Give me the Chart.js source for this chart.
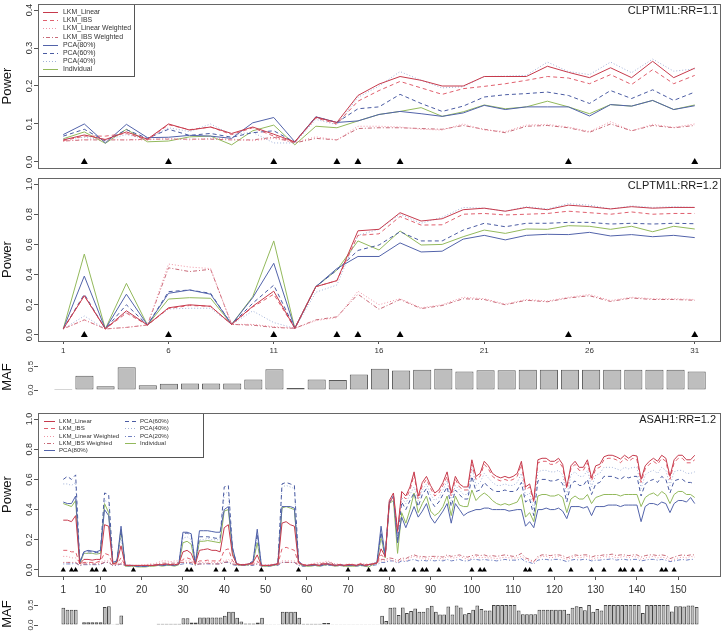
<!DOCTYPE html>
<html>
<head>
<meta charset="utf-8">
<script src="https://cdn.jsdelivr.net/npm/chart.js@4.4.1/dist/chart.umd.min.js"></script>
<style>
  body { margin: 0; background: #fff; overflow: hidden; }
  .panel { position: absolute; left: 0; width: 724px; }
</style>
</head>
<body>
<div class="panel" style="top:0px;height:172px"><canvas id="p1" width="724" height="172"></canvas></div>
<div class="panel" style="top:172px;height:190px"><canvas id="p2" width="724" height="190"></canvas></div>
<div class="panel" style="top:358px;height:40px"><canvas id="m1" width="724" height="40"></canvas></div>
<div class="panel" style="top:395px;height:205px"><canvas id="p3" width="724" height="205"></canvas></div>
<div class="panel" style="top:596px;height:35px"><canvas id="m3" width="724" height="35"></canvas></div>
<script>
// ---- tick labels ----
const xTicks1 = [1, 6, 11, 16, 21, 26, 31]
const xTicks3 = [1, 10, 20, 30, 40, 50, 60, 70, 80, 90, 100, 110, 120, 130, 140, 150]
const yTicksP1 = [0, 0.1, 0.2, 0.3, 0.4]
const yTicksP = [0, 0.2, 0.4, 0.6, 0.8, 1.0]
const yTicksMaf = [0, 0.5]

// ---- causal SNP positions (triangles) ----
const causal1 = [2, 6, 11, 14, 15, 17, 25, 31]
const causal3 = [1, 3, 4, 8, 9, 11, 18, 31, 32, 38, 40, 43, 49, 58, 70, 75, 78, 79, 81, 86, 88, 89, 92,
  100, 102, 103, 113, 114, 119, 124, 129, 132, 136, 137, 139, 141, 146, 147, 149]

// ---- CLPTM1L, 31 SNPs ----
const maf1 = [0.02, 0.30, 0.08, 0.48, 0.10, 0.13, 0.14, 0.14, 0.14, 0.22, 0.44, 0.04, 0.22, 0.21, 0.33, 0.45,
  0.41, 0.43, 0.45, 0.39, 0.42, 0.42, 0.43, 0.43, 0.43, 0.43, 0.43, 0.43, 0.43, 0.43, 0.39]

// RR = 1.1
const p1LkmLinear = [0.058, 0.071, 0.059, 0.079, 0.060, 0.100, 0.084, 0.092, 0.075, 0.092, 0.073, 0.053, 0.118, 0.104, 0.175, 0.205,
  0.225, 0.215, 0.200, 0.200, 0.225, 0.225, 0.225, 0.252, 0.236, 0.222, 0.248, 0.222, 0.265, 0.222, 0.247]
const p1LkmIbs = [0.056, 0.068, 0.068, 0.075, 0.058, 0.098, 0.085, 0.092, 0.072, 0.090, 0.068, 0.052, 0.116, 0.100, 0.160, 0.188,
  0.212, 0.195, 0.178, 0.193, 0.199, 0.206, 0.215, 0.225, 0.221, 0.206, 0.230, 0.204, 0.243, 0.206, 0.228]
const p1LkmLinW = [0.055, 0.059, 0.060, 0.058, 0.058, 0.062, 0.058, 0.062, 0.060, 0.056, 0.062, 0.052, 0.066, 0.058, 0.094, 0.094,
  0.092, 0.086, 0.084, 0.100, 0.084, 0.080, 0.097, 0.099, 0.092, 0.080, 0.106, 0.082, 0.099, 0.091, 0.100]
const p1LkmIbsW = [0.055, 0.058, 0.058, 0.058, 0.060, 0.060, 0.060, 0.060, 0.058, 0.058, 0.065, 0.050, 0.062, 0.058, 0.088, 0.090,
  0.090, 0.088, 0.086, 0.096, 0.086, 0.077, 0.094, 0.096, 0.090, 0.078, 0.100, 0.082, 0.096, 0.090, 0.096]
const p1Pca80 = [0.072, 0.100, 0.050, 0.099, 0.064, 0.065, 0.070, 0.068, 0.062, 0.103, 0.117, 0.053, 0.119, 0.104, 0.108, 0.125,
  0.133, 0.127, 0.120, 0.129, 0.149, 0.138, 0.145, 0.145, 0.145, 0.121, 0.151, 0.147, 0.162, 0.138, 0.148]
const p1Pca60 = [0.068, 0.086, 0.055, 0.085, 0.062, 0.086, 0.070, 0.075, 0.065, 0.077, 0.082, 0.052, 0.118, 0.104, 0.140, 0.145,
  0.178, 0.154, 0.133, 0.147, 0.171, 0.177, 0.180, 0.184, 0.175, 0.154, 0.188, 0.167, 0.190, 0.162, 0.184]
const p1Pca40 = [0.060, 0.065, 0.058, 0.072, 0.060, 0.090, 0.080, 0.100, 0.072, 0.078, 0.050, 0.050, 0.112, 0.098, 0.170, 0.200,
  0.238, 0.215, 0.195, 0.198, 0.225, 0.226, 0.228, 0.263, 0.238, 0.230, 0.263, 0.235, 0.271, 0.239, 0.245]
const p1Indiv = [0.061, 0.079, 0.049, 0.086, 0.053, 0.055, 0.066, 0.068, 0.045, 0.082, 0.097, 0.045, 0.094, 0.090, 0.108, 0.125,
  0.133, 0.143, 0.120, 0.132, 0.150, 0.140, 0.145, 0.160, 0.145, 0.127, 0.151, 0.147, 0.162, 0.138, 0.150]

// RR = 1.2
const p2LkmLinear = [0.04, 0.26, 0.04, 0.16, 0.066, 0.18, 0.20, 0.19, 0.07, 0.19, 0.29, 0.044, 0.32, 0.36, 0.69, 0.70,
  0.81, 0.755, 0.77, 0.83, 0.84, 0.82, 0.845, 0.83, 0.86, 0.85, 0.835, 0.85, 0.84, 0.845, 0.845]
const p2LkmIbs = [0.04, 0.26, 0.04, 0.145, 0.066, 0.175, 0.195, 0.19, 0.07, 0.185, 0.27, 0.044, 0.32, 0.36, 0.66, 0.67,
  0.785, 0.728, 0.73, 0.80, 0.805, 0.795, 0.80, 0.805, 0.82, 0.81, 0.80, 0.815, 0.80, 0.805, 0.805]
const p2LkmLinW = [0.04, 0.10, 0.04, 0.05, 0.066, 0.47, 0.45, 0.44, 0.07, 0.07, 0.055, 0.044, 0.095, 0.115, 0.29, 0.20,
  0.24, 0.18, 0.20, 0.25, 0.24, 0.205, 0.235, 0.225, 0.25, 0.268, 0.228, 0.25, 0.24, 0.24, 0.235]
const p2LkmIbsW = [0.04, 0.10, 0.04, 0.05, 0.066, 0.445, 0.42, 0.435, 0.07, 0.065, 0.05, 0.044, 0.10, 0.12, 0.27, 0.17,
  0.235, 0.175, 0.195, 0.24, 0.235, 0.20, 0.23, 0.22, 0.245, 0.26, 0.222, 0.245, 0.235, 0.235, 0.23]
const p2Pca80 = [0.04, 0.39, 0.04, 0.27, 0.066, 0.276, 0.298, 0.27, 0.07, 0.247, 0.475, 0.044, 0.32, 0.44, 0.52, 0.52,
  0.61, 0.55, 0.555, 0.635, 0.66, 0.63, 0.66, 0.667, 0.665, 0.68, 0.656, 0.665, 0.651, 0.66, 0.645]
const p2Pca60 = [0.04, 0.27, 0.04, 0.20, 0.066, 0.287, 0.298, 0.276, 0.07, 0.21, 0.33, 0.044, 0.32, 0.43, 0.56, 0.596,
  0.684, 0.623, 0.623, 0.695, 0.74, 0.717, 0.74, 0.74, 0.746, 0.746, 0.735, 0.74, 0.735, 0.74, 0.737]
const p2Pca40 = [0.04, 0.126, 0.04, 0.15, 0.066, 0.172, 0.177, 0.177, 0.07, 0.159, 0.082, 0.044, 0.283, 0.331, 0.66, 0.70,
  0.80, 0.74, 0.78, 0.845, 0.84, 0.82, 0.85, 0.835, 0.87, 0.86, 0.835, 0.855, 0.845, 0.85, 0.845]
const p2Indiv = [0.04, 0.536, 0.04, 0.342, 0.066, 0.238, 0.247, 0.243, 0.07, 0.254, 0.623, 0.044, 0.32, 0.43, 0.623, 0.563,
  0.689, 0.596, 0.60, 0.651, 0.695, 0.673, 0.702, 0.70, 0.724, 0.72, 0.70, 0.72, 0.684, 0.72, 0.702]

// ---- ASAH1, 154 SNPs ----
const maf3 = [
  0.43, 0.38, 0.38, 0.38, 0.01, 0.07, 0.07, 0.07, 0.07, 0.07,
  0.45, 0.47, 0.02, 0.03, 0.24, 0.01, 0.01, 0.01, 0.01, 0.01,
  0.01, 0.01, 0.01, 0.03, 0.03, 0.03, 0.03, 0.03, 0.03, 0.17,
  0.17, 0.06, 0.06, 0.19, 0.19, 0.19, 0.19, 0.19, 0.19, 0.23,
  0.33, 0.33, 0.18, 0.09, 0.04, 0.04, 0.04, 0.06, 0.18, 0.02,
  0.02, 0.02, 0.02, 0.33, 0.33, 0.33, 0.33, 0.18, 0.03, 0.03,
  0.03, 0.03, 0.03, 0.05, 0.05, 0.02, 0.02, 0.02, 0.02, 0.02,
  0.02, 0.02, 0.02, 0.02, 0.02, 0.02, 0.02, 0.23, 0.10, 0.43,
  0.44, 0.25, 0.44, 0.30, 0.35, 0.41, 0.33, 0.33, 0.42, 0.48,
  0.33, 0.26, 0.26, 0.46, 0.26, 0.49, 0.44, 0.27, 0.30, 0.38,
  0.49, 0.40, 0.36, 0.36, 0.50, 0.50, 0.50, 0.50, 0.50, 0.50,
  0.36, 0.27, 0.27, 0.27, 0.27, 0.38, 0.38, 0.38, 0.38, 0.38,
  0.38, 0.38, 0.28, 0.43, 0.47, 0.45, 0.37, 0.50, 0.33, 0.40,
  0.36, 0.50, 0.50, 0.50, 0.50, 0.50, 0.50, 0.50, 0.50, 0.50,
  0.30, 0.50, 0.50, 0.50, 0.50, 0.50, 0.50, 0.34, 0.47, 0.47,
  0.46, 0.49, 0.49, 0.45]

const p3LkmLinear = [
  0.33, 0.33, 0.32, 0.36, 0.04, 0.07, 0.07, 0.065, 0.07, 0.07,
  0.30, 0.29, 0.04, 0.05, 0.16, 0.03, 0.03, 0.03, 0.03, 0.03,
  0.03, 0.03, 0.03, 0.035, 0.035, 0.04, 0.035, 0.035, 0.04, 0.12,
  0.13, 0.11, 0.04, 0.13, 0.135, 0.14, 0.13, 0.13, 0.12, 0.28,
  0.30, 0.10, 0.04, 0.035, 0.035, 0.04, 0.05, 0.10, 0.03, 0.03,
  0.03, 0.035, 0.04, 0.31, 0.32, 0.30, 0.29, 0.05, 0.035, 0.03,
  0.035, 0.035, 0.03, 0.04, 0.04, 0.035, 0.03, 0.035, 0.03, 0.035,
  0.035, 0.03, 0.04, 0.03, 0.035, 0.04, 0.045, 0.14, 0.09, 0.46,
  0.51, 0.26, 0.52, 0.49, 0.55, 0.65, 0.49, 0.58, 0.62, 0.56,
  0.51, 0.53, 0.58, 0.65, 0.51, 0.62, 0.57, 0.55, 0.55, 0.73,
  0.62, 0.64, 0.72, 0.69, 0.64, 0.62, 0.61, 0.62, 0.61, 0.62,
  0.64, 0.72, 0.55, 0.57, 0.46, 0.73, 0.74, 0.74, 0.72, 0.72,
  0.74, 0.70, 0.55, 0.69, 0.72, 0.68, 0.68, 0.73, 0.61, 0.69,
  0.70, 0.75, 0.76, 0.76, 0.75, 0.735, 0.76, 0.74, 0.76, 0.755,
  0.60, 0.69, 0.72, 0.74, 0.72, 0.76, 0.74, 0.62, 0.73, 0.76,
  0.76, 0.73, 0.73, 0.76]
const p3LkmIbs = [
  0.13, 0.13, 0.12, 0.12, 0.04, 0.05, 0.05, 0.05, 0.05, 0.06,
  0.11, 0.10, 0.04, 0.04, 0.08, 0.03, 0.03, 0.03, 0.03, 0.03,
  0.03, 0.03, 0.03, 0.035, 0.035, 0.04, 0.035, 0.035, 0.04, 0.07,
  0.08, 0.07, 0.04, 0.06, 0.06, 0.065, 0.06, 0.06, 0.06, 0.13,
  0.14, 0.06, 0.04, 0.035, 0.035, 0.04, 0.045, 0.06, 0.03, 0.03,
  0.03, 0.035, 0.04, 0.14, 0.15, 0.14, 0.13, 0.045, 0.035, 0.03,
  0.035, 0.035, 0.03, 0.04, 0.04, 0.035, 0.03, 0.035, 0.03, 0.035,
  0.035, 0.03, 0.04, 0.03, 0.035, 0.04, 0.045, 0.10, 0.08, 0.44,
  0.49, 0.25, 0.50, 0.47, 0.53, 0.63, 0.47, 0.56, 0.60, 0.54,
  0.49, 0.51, 0.56, 0.62, 0.49, 0.60, 0.55, 0.53, 0.53, 0.70,
  0.60, 0.62, 0.70, 0.67, 0.62, 0.60, 0.59, 0.60, 0.59, 0.60,
  0.62, 0.70, 0.53, 0.55, 0.45, 0.71, 0.72, 0.72, 0.70, 0.70,
  0.72, 0.68, 0.54, 0.67, 0.70, 0.66, 0.66, 0.71, 0.59, 0.67,
  0.68, 0.73, 0.74, 0.74, 0.73, 0.71, 0.74, 0.72, 0.74, 0.73,
  0.58, 0.67, 0.70, 0.72, 0.70, 0.74, 0.72, 0.60, 0.71, 0.74,
  0.74, 0.71, 0.71, 0.73]
const p3LkmLinW = [
  0.09, 0.09, 0.08, 0.08, 0.04, 0.05, 0.05, 0.05, 0.05, 0.05,
  0.06, 0.06, 0.04, 0.04, 0.05, 0.035, 0.035, 0.03, 0.03, 0.035,
  0.035, 0.04, 0.04, 0.05, 0.06, 0.06, 0.055, 0.06, 0.06, 0.06,
  0.06, 0.06, 0.04, 0.05, 0.05, 0.055, 0.05, 0.05, 0.05, 0.06,
  0.07, 0.05, 0.04, 0.035, 0.04, 0.04, 0.04, 0.05, 0.03, 0.035,
  0.035, 0.04, 0.04, 0.06, 0.06, 0.06, 0.06, 0.04, 0.04, 0.035,
  0.04, 0.045, 0.05, 0.05, 0.06, 0.05, 0.04, 0.04, 0.035, 0.04,
  0.04, 0.035, 0.045, 0.04, 0.04, 0.045, 0.05, 0.06, 0.06, 0.07,
  0.06, 0.05, 0.07, 0.06, 0.08, 0.09, 0.08, 0.08, 0.07, 0.075,
  0.08, 0.08, 0.07, 0.09, 0.08, 0.08, 0.09, 0.08, 0.07, 0.08,
  0.09, 0.08, 0.085, 0.08, 0.08, 0.075, 0.08, 0.085, 0.08, 0.08,
  0.08, 0.09, 0.07, 0.06, 0.05, 0.08, 0.09, 0.09, 0.08, 0.085,
  0.09, 0.08, 0.07, 0.08, 0.09, 0.08, 0.085, 0.09, 0.07, 0.08,
  0.08, 0.09, 0.085, 0.09, 0.08, 0.085, 0.09, 0.08, 0.09, 0.085,
  0.07, 0.08, 0.085, 0.09, 0.08, 0.085, 0.08, 0.06, 0.07, 0.08,
  0.085, 0.08, 0.09, 0.085]
const p3LkmIbsW = [
  0.05, 0.05, 0.05, 0.05, 0.03, 0.04, 0.04, 0.04, 0.04, 0.04,
  0.05, 0.05, 0.03, 0.035, 0.04, 0.03, 0.03, 0.03, 0.03, 0.03,
  0.03, 0.035, 0.035, 0.04, 0.045, 0.045, 0.045, 0.045, 0.05, 0.05,
  0.05, 0.05, 0.035, 0.04, 0.04, 0.045, 0.04, 0.04, 0.04, 0.05,
  0.055, 0.04, 0.035, 0.03, 0.035, 0.035, 0.035, 0.04, 0.03, 0.03,
  0.03, 0.035, 0.035, 0.05, 0.05, 0.05, 0.05, 0.035, 0.035, 0.03,
  0.035, 0.04, 0.04, 0.045, 0.05, 0.045, 0.035, 0.035, 0.03, 0.035,
  0.035, 0.03, 0.04, 0.035, 0.035, 0.04, 0.045, 0.07, 0.07, 0.08,
  0.075, 0.06, 0.08, 0.075, 0.09, 0.10, 0.09, 0.09, 0.085, 0.09,
  0.09, 0.09, 0.085, 0.10, 0.09, 0.095, 0.10, 0.09, 0.085, 0.095,
  0.10, 0.095, 0.10, 0.09, 0.095, 0.09, 0.095, 0.10, 0.095, 0.09,
  0.095, 0.11, 0.08, 0.07, 0.055, 0.09, 0.10, 0.10, 0.095, 0.10,
  0.10, 0.095, 0.08, 0.09, 0.10, 0.095, 0.10, 0.10, 0.085, 0.095,
  0.095, 0.10, 0.10, 0.105, 0.095, 0.10, 0.10, 0.095, 0.10, 0.10,
  0.085, 0.095, 0.10, 0.10, 0.095, 0.10, 0.095, 0.075, 0.085, 0.095,
  0.10, 0.095, 0.10, 0.10]
const p3Pca80 = [
  0.45, 0.44, 0.44, 0.49, 0.05, 0.12, 0.13, 0.125, 0.12, 0.13,
  0.40, 0.36, 0.05, 0.06, 0.29, 0.03, 0.03, 0.03, 0.025, 0.025,
  0.025, 0.03, 0.03, 0.035, 0.03, 0.035, 0.035, 0.03, 0.04, 0.25,
  0.25, 0.24, 0.04, 0.26, 0.26, 0.26, 0.255, 0.25, 0.25, 0.40,
  0.42, 0.15, 0.04, 0.035, 0.035, 0.04, 0.06, 0.27, 0.03, 0.03,
  0.03, 0.035, 0.04, 0.42, 0.42, 0.42, 0.41, 0.06, 0.03, 0.03,
  0.03, 0.035, 0.03, 0.035, 0.04, 0.035, 0.03, 0.035, 0.03, 0.03,
  0.03, 0.03, 0.035, 0.03, 0.035, 0.04, 0.05, 0.29, 0.09, 0.44,
  0.49, 0.18, 0.35, 0.28, 0.35, 0.42, 0.35, 0.39, 0.44, 0.35,
  0.31, 0.35, 0.39, 0.44, 0.31, 0.44, 0.40, 0.36, 0.38, 0.39,
  0.40, 0.40, 0.41, 0.41, 0.40, 0.40, 0.40, 0.40, 0.39, 0.395,
  0.40, 0.40, 0.29, 0.32, 0.28, 0.40, 0.40, 0.41, 0.40, 0.40,
  0.41, 0.39, 0.34, 0.42, 0.42, 0.42, 0.41, 0.42, 0.36, 0.42,
  0.42, 0.42, 0.43, 0.43, 0.43, 0.42, 0.43, 0.43, 0.43, 0.43,
  0.32, 0.42, 0.44, 0.44, 0.43, 0.45, 0.44, 0.38, 0.44, 0.46,
  0.46, 0.45, 0.48, 0.44]
const p3Pca60 = [
  0.60, 0.62, 0.60, 0.63, 0.05, 0.12, 0.12, 0.12, 0.115, 0.12,
  0.51, 0.50, 0.05, 0.06, 0.26, 0.03, 0.03, 0.03, 0.025, 0.025,
  0.025, 0.03, 0.03, 0.035, 0.03, 0.035, 0.035, 0.03, 0.04, 0.24,
  0.245, 0.23, 0.04, 0.22, 0.22, 0.22, 0.215, 0.21, 0.21, 0.55,
  0.56, 0.14, 0.04, 0.035, 0.035, 0.04, 0.06, 0.24, 0.03, 0.03,
  0.03, 0.035, 0.04, 0.57, 0.58, 0.57, 0.56, 0.06, 0.03, 0.03,
  0.03, 0.035, 0.03, 0.035, 0.04, 0.035, 0.03, 0.035, 0.03, 0.03,
  0.03, 0.03, 0.035, 0.03, 0.035, 0.04, 0.05, 0.25, 0.09, 0.45,
  0.49, 0.20, 0.45, 0.40, 0.46, 0.51, 0.42, 0.50, 0.54, 0.46,
  0.42, 0.45, 0.50, 0.55, 0.42, 0.53, 0.50, 0.47, 0.47, 0.62,
  0.52, 0.53, 0.58, 0.55, 0.53, 0.52, 0.52, 0.53, 0.52, 0.52,
  0.53, 0.58, 0.45, 0.47, 0.36, 0.59, 0.60, 0.60, 0.59, 0.59,
  0.60, 0.57, 0.45, 0.57, 0.59, 0.56, 0.56, 0.60, 0.50, 0.57,
  0.58, 0.62, 0.62, 0.62, 0.61, 0.60, 0.62, 0.61, 0.62, 0.62,
  0.49, 0.57, 0.59, 0.60, 0.58, 0.62, 0.60, 0.51, 0.59, 0.60,
  0.60, 0.58, 0.58, 0.57]
const p3Pca40 = [
  0.57, 0.57, 0.56, 0.58, 0.05, 0.11, 0.11, 0.11, 0.11, 0.11,
  0.46, 0.45, 0.05, 0.06, 0.22, 0.03, 0.03, 0.03, 0.025, 0.025,
  0.025, 0.03, 0.03, 0.035, 0.03, 0.035, 0.035, 0.03, 0.04, 0.21,
  0.22, 0.20, 0.04, 0.20, 0.20, 0.21, 0.20, 0.20, 0.20, 0.50,
  0.52, 0.13, 0.04, 0.035, 0.035, 0.04, 0.055, 0.21, 0.03, 0.03,
  0.03, 0.035, 0.04, 0.55, 0.56, 0.55, 0.54, 0.06, 0.03, 0.03,
  0.03, 0.035, 0.03, 0.035, 0.04, 0.035, 0.03, 0.035, 0.03, 0.03,
  0.03, 0.03, 0.035, 0.03, 0.035, 0.04, 0.05, 0.22, 0.09, 0.45,
  0.50, 0.22, 0.48, 0.44, 0.50, 0.55, 0.46, 0.53, 0.57, 0.50,
  0.46, 0.48, 0.53, 0.59, 0.46, 0.56, 0.53, 0.50, 0.50, 0.68,
  0.56, 0.58, 0.64, 0.61, 0.58, 0.56, 0.56, 0.57, 0.56, 0.56,
  0.58, 0.64, 0.49, 0.51, 0.40, 0.65, 0.66, 0.66, 0.65, 0.65,
  0.66, 0.63, 0.49, 0.63, 0.65, 0.62, 0.62, 0.66, 0.55, 0.63,
  0.64, 0.68, 0.68, 0.68, 0.67, 0.66, 0.68, 0.67, 0.68, 0.68,
  0.54, 0.63, 0.65, 0.66, 0.64, 0.68, 0.66, 0.56, 0.65, 0.66,
  0.66, 0.64, 0.64, 0.65]
const p3Pca20 = [
  0.04, 0.04, 0.04, 0.045, 0.03, 0.035, 0.035, 0.035, 0.035, 0.035,
  0.05, 0.05, 0.03, 0.03, 0.04, 0.03, 0.025, 0.025, 0.025, 0.025,
  0.025, 0.025, 0.03, 0.03, 0.03, 0.03, 0.03, 0.03, 0.035, 0.04,
  0.045, 0.04, 0.03, 0.04, 0.04, 0.04, 0.04, 0.04, 0.04, 0.05,
  0.05, 0.035, 0.03, 0.03, 0.03, 0.03, 0.03, 0.04, 0.025, 0.025,
  0.025, 0.03, 0.03, 0.05, 0.05, 0.05, 0.05, 0.03, 0.025, 0.025,
  0.03, 0.03, 0.025, 0.03, 0.03, 0.03, 0.025, 0.03, 0.025, 0.03,
  0.03, 0.025, 0.03, 0.025, 0.03, 0.03, 0.035, 0.05, 0.05, 0.06,
  0.06, 0.045, 0.06, 0.055, 0.065, 0.07, 0.06, 0.065, 0.06, 0.065,
  0.06, 0.065, 0.06, 0.07, 0.06, 0.065, 0.07, 0.06, 0.06, 0.07,
  0.07, 0.065, 0.07, 0.065, 0.065, 0.06, 0.065, 0.07, 0.065, 0.065,
  0.065, 0.075, 0.055, 0.05, 0.04, 0.065, 0.07, 0.07, 0.065, 0.07,
  0.07, 0.065, 0.055, 0.065, 0.07, 0.065, 0.07, 0.07, 0.06, 0.065,
  0.065, 0.07, 0.07, 0.075, 0.065, 0.07, 0.07, 0.065, 0.07, 0.07,
  0.06, 0.065, 0.07, 0.07, 0.065, 0.07, 0.065, 0.055, 0.06, 0.065,
  0.07, 0.065, 0.07, 0.07]
const p3Indiv = [
  0.44, 0.43, 0.42, 0.46, 0.04, 0.11, 0.11, 0.11, 0.105, 0.11,
  0.44, 0.38, 0.04, 0.05, 0.27, 0.025, 0.025, 0.025, 0.02, 0.02,
  0.02, 0.025, 0.025, 0.03, 0.025, 0.03, 0.03, 0.025, 0.035, 0.18,
  0.19, 0.17, 0.035, 0.19, 0.19, 0.195, 0.19, 0.185, 0.18, 0.39,
  0.40, 0.12, 0.035, 0.03, 0.03, 0.035, 0.05, 0.18, 0.025, 0.025,
  0.025, 0.03, 0.035, 0.41, 0.42, 0.41, 0.40, 0.05, 0.025, 0.025,
  0.025, 0.03, 0.025, 0.03, 0.035, 0.03, 0.025, 0.03, 0.025, 0.025,
  0.025, 0.025, 0.03, 0.025, 0.02, 0.035, 0.045, 0.22, 0.08, 0.44,
  0.46, 0.11, 0.38, 0.31, 0.40, 0.51, 0.38, 0.44, 0.49, 0.39,
  0.36, 0.38, 0.42, 0.49, 0.36, 0.49, 0.43, 0.42, 0.42, 0.53,
  0.46, 0.49, 0.51, 0.49, 0.46, 0.44, 0.43, 0.44, 0.43, 0.44,
  0.45, 0.50, 0.35, 0.38, 0.32, 0.49, 0.50, 0.50, 0.49, 0.49,
  0.50, 0.48, 0.38, 0.47, 0.49, 0.47, 0.47, 0.50, 0.44, 0.48,
  0.49, 0.50, 0.50, 0.50, 0.50, 0.49, 0.50, 0.50, 0.50, 0.50,
  0.42, 0.48, 0.50, 0.51, 0.49, 0.52, 0.50, 0.44, 0.50, 0.52,
  0.52, 0.50, 0.50, 0.48]

// ---- styling ----
const FONT = "'Liberation Sans', Arial, Helvetica, sans-serif"
Chart.defaults.font.family = FONT
Chart.defaults.color = "#333"

const DASHED = [4, 3]
const DOTTED = [1, 2]
const DOTDASH = [1, 2, 4, 2]
const st = {
  lin: { color: "#c63a4c", dash: [] },
  ibs: { color: "#e0606e", dash: DASHED },
  linW: { color: "#f095a5", dash: DOTTED },
  ibsW: { color: "#c86a78", dash: DOTDASH },
  pca80: { color: "#5263aa", dash: [] },
  pca60: { color: "#4a5ba2", dash: DASHED },
  pca40: { color: "#a2b2d8", dash: DOTTED },
  pca20: { color: "#7282c2", dash: DOTDASH },
  ind: { color: "#93b95c", dash: [] },
}

function lineSet(label, values, s) {
  return {
    label,
    data: values.map((v, i) => ({ x: i + 1, y: v })),
    borderColor: s.color,
    borderDash: s.dash,
    borderWidth: 1,
    pointRadius: 0,
    tension: 0,
    fill: false,
    inLegend: true,
  }
}

function triSet(pos, r) {
  return {
    label: "causal",
    data: pos.map(x => ({ x, y: 0 })),
    showLine: false,
    pointStyle: "triangle",
    pointRadius: r,
    pointBackgroundColor: "#000",
    pointBorderColor: "#000",
    pointBorderWidth: 0,
  }
}

function yAxis(min, max, ticks, title, border, size) {
  return {
    min,
    max,
    afterFit: s => { s.width = 38 },
    afterBuildTicks: s => { s.ticks = ticks.map(v => ({ value: v })) },
    grid: { drawOnChartArea: false, tickLength: 4, color: "#555" },
    border: { display: border, color: "#555" },
    ticks: {
      font: { size: size || 9 }, color: "#333", minRotation: 90, maxRotation: 90,
      crossAlign: "center", padding: -2, autoSkip: false,
      callback: v => v.toFixed(1),
    },
    title: { display: true, text: title, font: { size: 13 }, color: "#111", padding: 0 },
  }
}

function xAxis(min, max, ticks, size, height, pad, tl) {
  return {
    type: "linear",
    min,
    max,
    offset: false,
    display: !!ticks,
    afterBuildTicks: s => { if (ticks) s.ticks = ticks.map(v => ({ value: v })) },
    afterFit: s => { s.height = height },
    grid: { drawOnChartArea: false, offset: false, tickLength: tl, color: "#555" },
    border: { display: false },
    ticks: { font: { size }, color: "#333", padding: pad, maxRotation: 0, autoSkip: false },
  }
}

// box, corner label and legend drawn R style
const rframe = {
  id: "rframe",
  afterDraw(chart, args, o) {
    const { ctx, chartArea: a } = chart
    ctx.save()
    const lg = o.legend
    if (lg) {
      const items = chart.data.datasets.filter(d => d.inLegend)
      ctx.fillStyle = "#fff"
      ctx.fillRect(a.left, a.top, lg.w, lg.h)
      ctx.strokeStyle = "#555"
      ctx.lineWidth = 1
      ctx.strokeRect(Math.round(a.left) + 0.5, Math.round(a.top) + 0.5, lg.w, lg.h)
      ctx.font = lg.font + "px " + FONT
      ctx.textBaseline = "middle"
      ctx.textAlign = "left"
      items.forEach((d, i) => {
        const col = Math.floor(i / lg.perCol)
        const row = i % lg.perCol
        const x = a.left + lg.cols[col]
        const y = Math.round(a.top + lg.first + row * lg.rowH) + 0.5
        ctx.setLineDash(d.borderDash)
        ctx.strokeStyle = d.borderColor
        ctx.beginPath()
        ctx.moveTo(x + lg.l0, y)
        ctx.lineTo(x + lg.l1, y)
        ctx.stroke()
        ctx.setLineDash([])
        ctx.fillStyle = "#333"
        ctx.fillText(d.label, x + lg.tx, y)
      })
    }
    ctx.strokeStyle = "#666"
    ctx.lineWidth = 1
    ctx.setLineDash([])
    ctx.strokeRect(Math.round(a.left) + 0.5, Math.round(a.top) + 0.5, Math.round(a.width), Math.round(a.height))
    if (o.tag) {
      ctx.fillStyle = "#222"
      ctx.font = "11px " + FONT
      ctx.textAlign = "right"
      ctx.textBaseline = "middle"
      ctx.fillText(o.tag, a.right - o.tagR, a.top + o.tagY)
    }
    ctx.restore()
  },
}

const common = {
  responsive: false,
  animation: false,
  events: [],
}

function powerSets(list) {
  return list.map(([label, values, s]) => lineSet(label, values, s))
}

new Chart(document.getElementById("p1"), {
  type: "line",
  data: {
    datasets: [triSet(causal1, 4)].concat(powerSets([
      ["LKM_Linear", p1LkmLinear, st.lin],
      ["LKM_IBS", p1LkmIbs, st.ibs],
      ["LKM_Linear Weighted", p1LkmLinW, st.linW],
      ["LKM_IBS Weighted", p1LkmIbsW, st.ibsW],
      ["PCA(80%)", p1Pca80, st.pca80],
      ["PCA(60%)", p1Pca60, st.pca60],
      ["PCA(40%)", p1Pca40, st.pca40],
      ["Individual", p1Indiv, st.ind],
    ])),
  },
  options: {
    ...common,
    layout: { padding: { top: 3, right: 2, bottom: 4, left: 0 } },
    scales: { x: xAxis(-0.2, 32.2, null, 8, 0, 0, 3), y: yAxis(-0.016, 0.416, yTicksP1, "Power", false) },
    plugins: {
      legend: { display: false },
      tooltip: { enabled: false },
      rframe: {
        tag: "CLPTM1L:RR=1.1", tagY: 7, tagR: 2,
        legend: { w: 96, h: 72, first: 8, rowH: 8.2, perCol: 8, cols: [0], l0: 5, l1: 20, tx: 25, font: 6.9 },
      },
    },
  },
  plugins: [rframe],
})

new Chart(document.getElementById("p2"), {
  type: "line",
  data: {
    datasets: [triSet(causal1, 4)].concat(powerSets([
      ["LKM_Linear", p2LkmLinear, st.lin],
      ["LKM_IBS", p2LkmIbs, st.ibs],
      ["LKM_Linear Weighted", p2LkmLinW, st.linW],
      ["LKM_IBS Weighted", p2LkmIbsW, st.ibsW],
      ["PCA(80%)", p2Pca80, st.pca80],
      ["PCA(60%)", p2Pca60, st.pca60],
      ["PCA(40%)", p2Pca40, st.pca40],
      ["Individual", p2Indiv, st.ind],
    ])),
  },
  options: {
    ...common,
    layout: { padding: { top: 6, right: 2, bottom: 0, left: 0 } },
    scales: { x: xAxis(-0.2, 32.2, xTicks1, 8, 21, 2, 3), y: yAxis(-0.04, 1.04, yTicksP, "Power", false) },
    plugins: {
      legend: { display: false },
      tooltip: { enabled: false },
      rframe: { tag: "CLPTM1L:RR=1.2", tagY: 8, tagR: 2 },
    },
  },
  plugins: [rframe],
})

new Chart(document.getElementById("m1"), {
  type: "bar",
  data: {
    datasets: [{
      data: maf1.map((v, i) => ({ x: i + 1, y: v })),
      backgroundColor: "#bebebe",
      borderColor: "#5a5a5a",
      borderWidth: 1,
      borderSkipped: false,
      barPercentage: 0.86,
      categoryPercentage: 1,
    }],
  },
  options: {
    ...common,
    layout: { padding: { top: 6, right: 2, bottom: 8, left: 0 } },
    scales: { x: xAxis(-0.2, 32.2, null, 8, 0, 0, 3), y: yAxis(0, 0.55, yTicksMaf, "MAF", false, 8) },
    plugins: { legend: { display: false }, tooltip: { enabled: false } },
  },
})

new Chart(document.getElementById("p3"), {
  type: "line",
  data: {
    datasets: [triSet(causal3, 3)].concat(powerSets([
      ["LKM_Linear", p3LkmLinear, st.lin],
      ["LKM_IBS", p3LkmIbs, st.ibs],
      ["LKM_Linear Weighted", p3LkmLinW, st.linW],
      ["LKM_IBS Weighted", p3LkmIbsW, st.ibsW],
      ["PCA(80%)", p3Pca80, st.pca80],
      ["PCA(60%)", p3Pca60, st.pca60],
      ["PCA(40%)", p3Pca40, st.pca40],
      ["PCA(20%)", p3Pca20, st.pca20],
      ["Individual", p3Indiv, st.ind],
    ])),
  },
  options: {
    ...common,
    layout: { padding: { top: 18, right: 2, bottom: 0, left: 0 } },
    scales: { x: xAxis(-5.12, 160.12, xTicks3, 10, 24, 4, 4), y: yAxis(-0.04, 1.04, yTicksP, "Power", false) },
    plugins: {
      legend: { display: false },
      tooltip: { enabled: false },
      rframe: {
        tag: "ASAH1:RR=1.2", tagY: 7, tagR: 4,
        legend: { w: 165, h: 44, first: 7.7, rowH: 7.4, perCol: 5, cols: [0, 81], l0: 6, l1: 17, tx: 21, font: 6.1 },
      },
    },
  },
  plugins: [rframe],
})

new Chart(document.getElementById("m3"), {
  type: "bar",
  data: {
    datasets: [{
      data: maf3.map((v, i) => ({ x: i + 1, y: v })),
      backgroundColor: "#bebebe",
      borderColor: "#444",
      borderWidth: 1,
      borderSkipped: false,
      barPercentage: 0.9,
      categoryPercentage: 1,
    }],
  },
  options: {
    ...common,
    layout: { padding: { top: 7, right: 2, bottom: 6, left: 0 } },
    scales: { x: xAxis(-5.12, 160.12, null, 8, 0, 0, 3), y: yAxis(0, 0.55, yTicksMaf, "MAF", false, 8) },
    plugins: { legend: { display: false }, tooltip: { enabled: false } },
  },
})
</script>
</body>
</html>
